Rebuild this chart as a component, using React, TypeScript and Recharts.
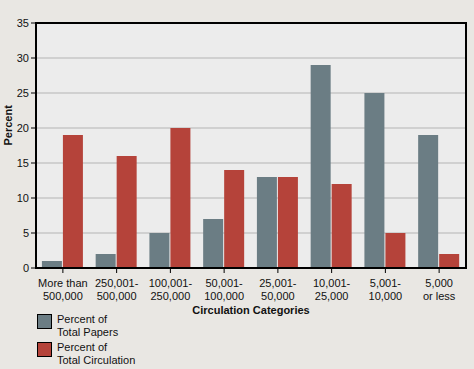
import React from "react"
import { BarChart, Bar, XAxis, YAxis, CartesianGrid, ReferenceArea } from "recharts"

// values
const categories = [
  "More than\n500,000",
  "250,001-\n500,000",
  "100,001-\n250,000",
  "50,001-\n100,000",
  "25,001-\n50,000",
  "10,001-\n25,000",
  "5,001-\n10,000",
  "5,000\nor less",
]
const totalPapers = [1, 2, 5, 7, 13, 29, 25, 19]
const totalCirculation = [19, 16, 20, 14, 13, 12, 5, 2]
const yTicks = [0, 5, 10, 15, 20, 25, 30, 35]

const data = categories.map((c, i) => ({
  category: c,
  papers: totalPapers[i],
  circulation: totalCirculation[i],
}))

const font = "'Liberation Sans', Arial, sans-serif"
const papersColor = "#6b7d84"
const circColor = "#b5433a"

const series = [
  { key: "papers", name: "Percent of\nTotal Papers", color: papersColor },
  { key: "circulation", name: "Percent of\nTotal Circulation", color: circColor },
]

function CategoryTick(props: any) {
  const { x, y, payload } = props
  const lines = String(payload.value).split("\n")
  return (
    <g transform={`translate(${x},${y})`}>
      {lines.map((l, i) => (
        <text
          key={i}
          x={0}
          y={12 + i * 13}
          textAnchor="middle"
          fill="#111"
          fontSize={11}
          fontFamily={font}
        >
          {l}
        </text>
      ))}
    </g>
  )
}

export default function App() {
  return (
    <div
      style={{
        position: "fixed",
        left: 0,
        top: 0,
        width: 474,
        height: 369,
        background: "#e9e7e3",
      }}
    >
      <BarChart
        width={474}
        height={369}
        data={data}
        margin={{ top: 23, right: 8, left: 0, bottom: 51 }}
        barCategoryGap="11%"
        barGap={1}
      >
        <CartesianGrid
          vertical={false}
          stroke="#b4b4b4"
          fill="#ececec"
          horizontalValues={[5, 10, 15, 20, 25, 30]}
        />
        <XAxis
          dataKey="category"
          interval={0}
          height={50}
          tick={<CategoryTick />}
          tickLine={{ stroke: "#000" }}
          tickSize={5}
          axisLine={{ stroke: "#000", strokeWidth: 2 }}
          label={{
            value: "Circulation Categories",
            position: "insideBottom",
            offset: 4,
            fill: "#111",
            fontSize: 11,
            fontWeight: "bold",
            fontFamily: font,
          }}
        />
        <YAxis
          width={36}
          domain={[0, 35]}
          ticks={yTicks}
          interval={0}
          tick={{ fill: "#111", fontSize: 11, fontFamily: font }}
          tickLine={{ stroke: "#000" }}
          tickSize={5}
          axisLine={{ stroke: "#000", strokeWidth: 2 }}
          label={{
            value: "Percent",
            angle: -90,
            position: "insideLeft",
            offset: 8,
            fill: "#111",
            fontSize: 11,
            fontWeight: "bold",
            fontFamily: font,
          }}
        />
        {series.map((s) => (
          <Bar
            key={s.key}
            dataKey={s.key}
            name={s.name}
            fill={s.color}
            isAnimationActive={false}
          />
        ))}
        <ReferenceArea
          y1={0}
          y2={35}
          fill="none"
          stroke="#000"
          strokeWidth={2}
          ifOverflow="visible"
        />
      </BarChart>
      <div
        style={{
          position: "absolute",
          left: 37,
          top: 313,
          fontFamily: font,
          fontSize: 11,
          color: "#111",
        }}
      >
        {series.map((s) => (
          <div key={s.key} style={{ display: "flex", alignItems: "flex-start", height: 28 }}>
            <div
              style={{
                width: 13,
                height: 13,
                border: "1px solid #000",
                background: s.color,
                marginTop: 1,
                marginRight: 5,
              }}
            />
            <div style={{ lineHeight: "13px", whiteSpace: "pre" }}>{s.name}</div>
          </div>
        ))}
      </div>
    </div>
  )
}
